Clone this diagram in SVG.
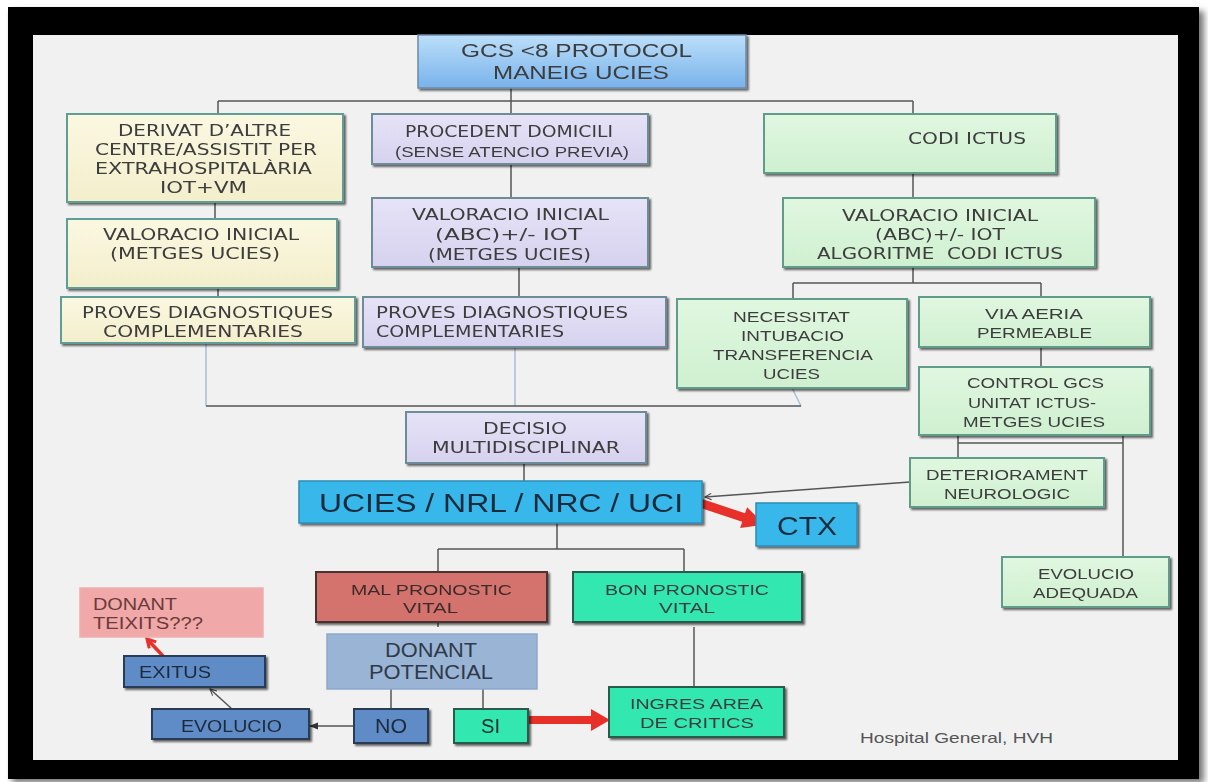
<svg xmlns="http://www.w3.org/2000/svg" width="1208" height="782" viewBox="0 0 1208 782">
<defs>
<style>
.t{font-family:"Liberation Sans",Arial,sans-serif;font-size:15px;fill:#3c3c3c}
.v{font-family:"DejaVu Sans",Verdana,sans-serif;font-size:15px;fill:#3c3c3c}
.big{font-size:25px;fill:#1c2c3c}
.m{font-size:20px}
.s{font-size:16px}
.ln{stroke:#555;stroke-width:1.5;fill:none}
.lb{stroke:#a9bfd4;stroke-width:1.5;fill:none}
.box{filter:url(#sh)}
.yel{fill:url(#gY);stroke:#5f9d97;stroke-width:2}
.lav{fill:url(#gL);stroke:#6c8c98;stroke-width:2}
.grn{fill:url(#gG);stroke:#5f9d8a;stroke-width:2}
.cy{fill:#38b8ea;stroke:#2b8cb5;stroke-width:1.5}
.red{fill:#d4726d;stroke:#4a3030;stroke-width:2}
.mint{fill:#33e8b0;stroke:#2c5a4c;stroke-width:2}
.blu{fill:#5f8cc6;stroke:#2b3a56;stroke-width:2}
.pb{fill:#9ab4d6;stroke:#8ea8cc;stroke-width:1.5}
.pk{fill:#f1a8a8;stroke:#eab0b0;stroke-width:1.5}
</style>
<linearGradient id="gY" x1="0" y1="0" x2="0" y2="1"><stop offset="0" stop-color="#fbf8e2"/><stop offset="1" stop-color="#f3eecb"/></linearGradient>
<linearGradient id="gL" x1="0" y1="0" x2="0" y2="1"><stop offset="0" stop-color="#e6e3f7"/><stop offset="1" stop-color="#d6d2ef"/></linearGradient>
<linearGradient id="gG" x1="0" y1="0" x2="0" y2="1"><stop offset="0" stop-color="#e0f7e0"/><stop offset="1" stop-color="#cff0d0"/></linearGradient>
<linearGradient id="gB" x1="0" y1="0" x2="0" y2="1"><stop offset="0" stop-color="#bcdffa"/><stop offset="1" stop-color="#78b2ea"/></linearGradient>
<filter id="sh" x="-10%" y="-10%" width="130%" height="140%"><feDropShadow dx="2" dy="2" stdDeviation="0.8" flood-color="#000" flood-opacity="0.6"/></filter>
<filter id="fr" x="-5%" y="-5%" width="110%" height="110%"><feGaussianBlur stdDeviation="3"/></filter>
<marker id="open" viewBox="0 0 10 10" refX="9" refY="5" markerWidth="8" markerHeight="8" orient="auto" markerUnits="userSpaceOnUse"><path d="M1,1 L9,5 L1,9" fill="none" stroke="#444" stroke-width="1.3"/></marker>
<marker id="fill" viewBox="0 0 10 10" refX="9" refY="5" markerWidth="9" markerHeight="9" orient="auto" markerUnits="userSpaceOnUse"><path d="M0,1 L10,5 L0,9 z" fill="#333"/></marker>
<marker id="redh" viewBox="0 0 10 10" refX="8" refY="5" markerWidth="12" markerHeight="12" orient="auto" markerUnits="userSpaceOnUse"><path d="M1,1 L8,5 L1,9" fill="none" stroke="#e8302a" stroke-width="2.5"/></marker>
</defs>

<rect width="1208" height="782" fill="#fff"/>
<rect x="12" y="11" width="1192" height="772" fill="#777" filter="url(#fr)"/>
<rect x="8" y="7" width="1191" height="772" fill="#000"/>
<rect x="33" y="35" width="1145" height="725" fill="#f1f1f1"/>

<g id="connectors">
<path class="ln" d="M511,88 V101 M218,101 H913 M218,101 V114 M511,101 V114 M913,101 V114"/>
<path class="ln" d="M215,202 V219 M218,288 V297"/>
<path class="ln" d="M511,164 V198 M519,267 V297"/>
<path class="ln" d="M913,173 V198 M913,267 V283 M793,283 H1041 M793,283 V299 M1041,283 V297 M1041,347 V367"/>
<path class="lb" d="M206,343 V406 M515,347 V406 M792,388 L801,406"/>
<path class="ln" d="M206,406 H801"/>
<path class="ln" d="M524,463 V481"/>
<path class="ln" d="M557,523 V549 M438,549 H684 M438,549 V572 M684,549 V572 M438,622 V627 M694,627 V687"/>
<path class="ln" d="M958,435 V458 M958,443 H1123 M1123,435 V557"/>
<path class="ln" d="M391,689 V709 M483,689 V709"/>
<path class="ln" d="M910,482 L705,497" marker-end="url(#open)"/>
<path class="ln" d="M354,726 H310" marker-end="url(#fill)"/>
<path class="ln" d="M232,709 L210,689" marker-end="url(#open)"/>
<path d="M163,656 L147,639" stroke="#e8302a" stroke-width="3.5" fill="none" marker-end="url(#redh)"/>
<polygon points="0,-4.5 46,-4.5 46,-11 68,0 46,11 46,4.5 0,4.5" fill="#e8302a" transform="translate(700,503) rotate(18.5)"/>
<polygon points="528,716 591,716 591,709 610,720 591,731 591,724 528,724" fill="#e8302a"/>
</g>

<g id="n-gcs" class="box"><rect x="418" y="35" width="328" height="53" fill="url(#gB)" stroke="#6c8aa6" stroke-width="1.5"/>
<text class="t" style="font-size:18px" x="461" y="57" textLength="231" lengthAdjust="spacingAndGlyphs">GCS &lt;8 PROTOCOL</text>
<text class="t" style="font-size:18px" x="493" y="79" textLength="176" lengthAdjust="spacingAndGlyphs">MANEIG UCIES</text></g>

<g id="n-derivat" class="box"><rect class="yel" x="67" y="114" width="276" height="88"/>
<text class="v" x="118" y="136" textLength="173" lengthAdjust="spacingAndGlyphs">DERIVAT D’ALTRE</text>
<text class="v" x="95" y="155" textLength="222" lengthAdjust="spacingAndGlyphs">CENTRE/ASSISTIT PER</text>
<text class="v" x="95" y="174" textLength="217" lengthAdjust="spacingAndGlyphs">EXTRAHOSPITALÀRIA</text>
<text class="v" x="160" y="193" textLength="87" lengthAdjust="spacingAndGlyphs">IOT+VM</text></g>

<g id="n-val-left" class="box"><rect class="yel" x="67" y="219" width="270" height="69"/>
<text class="v" x="103" y="240" textLength="196" lengthAdjust="spacingAndGlyphs">VALORACIO INICIAL</text>
<text class="v" x="110" y="259" textLength="170" lengthAdjust="spacingAndGlyphs">(METGES UCIES)</text></g>

<g id="n-proves-left" class="box"><rect class="yel" x="61" y="297" width="294" height="46"/>
<text class="v" x="82" y="318" textLength="251" lengthAdjust="spacingAndGlyphs">PROVES DIAGNOSTIQUES</text>
<text class="v" x="103" y="337" textLength="200" lengthAdjust="spacingAndGlyphs">COMPLEMENTARIES</text></g>

<g id="n-procedent" class="box"><rect class="lav" x="372" y="114" width="276" height="50"/>
<text class="v" x="405" y="137" textLength="208" lengthAdjust="spacingAndGlyphs">PROCEDENT DOMICILI</text>
<text class="t" x="395" y="157" textLength="234" lengthAdjust="spacingAndGlyphs">(SENSE ATENCIO PREVIA)</text></g>

<g id="n-val-mid" class="box"><rect class="lav" x="372" y="198" width="276" height="69"/>
<text class="v" x="412" y="220" textLength="197" lengthAdjust="spacingAndGlyphs">VALORACIO INICIAL</text>
<text class="v" x="435" y="240" textLength="147" lengthAdjust="spacingAndGlyphs">(ABC)+/- IOT</text>
<text class="v" x="428" y="260" textLength="163" lengthAdjust="spacingAndGlyphs">(METGES UCIES)</text></g>

<g id="n-proves-mid" class="box"><rect class="lav" x="363" y="297" width="303" height="50"/>
<text class="v" x="376" y="318" textLength="252" lengthAdjust="spacingAndGlyphs">PROVES DIAGNOSTIQUES</text>
<text class="v" x="376" y="337" textLength="188" lengthAdjust="spacingAndGlyphs">COMPLEMENTARIES</text></g>

<g id="n-codi" class="box"><rect class="grn" x="764" y="114" width="292" height="59"/>
<text class="v" x="908" y="144" textLength="118" lengthAdjust="spacingAndGlyphs">CODI ICTUS</text></g>

<g id="n-val-right" class="box"><rect class="grn" x="783" y="198" width="312" height="69"/>
<text class="v" x="842" y="221" textLength="196" lengthAdjust="spacingAndGlyphs">VALORACIO INICIAL</text>
<text class="v" x="875" y="240" textLength="130" lengthAdjust="spacingAndGlyphs">(ABC)+/- IOT</text>
<text class="v" x="817" y="259" textLength="246" lengthAdjust="spacingAndGlyphs">ALGORITME&#160; CODI ICTUS</text></g>

<g id="n-necessitat" class="box"><rect class="grn" x="677" y="299" width="230" height="89"/>
<text class="t" x="733" y="322" textLength="117" lengthAdjust="spacingAndGlyphs">NECESSITAT</text>
<text class="t" x="741" y="341" textLength="103" lengthAdjust="spacingAndGlyphs">INTUBACIO</text>
<text class="t" x="713" y="360" textLength="160" lengthAdjust="spacingAndGlyphs">TRANSFERENCIA</text>
<text class="t" x="763" y="379" textLength="57" lengthAdjust="spacingAndGlyphs">UCIES</text></g>

<g id="n-via" class="box"><rect class="grn" x="919" y="297" width="231" height="50"/>
<text class="t" x="985" y="319" textLength="98" lengthAdjust="spacingAndGlyphs">VIA AERIA</text>
<text class="t" x="977" y="338" textLength="115" lengthAdjust="spacingAndGlyphs">PERMEABLE</text></g>

<g id="n-control" class="box"><rect class="grn" x="919" y="367" width="231" height="68"/>
<text class="t" x="967" y="388" textLength="137" lengthAdjust="spacingAndGlyphs">CONTROL GCS</text>
<text class="t" x="968" y="408" textLength="128" lengthAdjust="spacingAndGlyphs">UNITAT ICTUS-</text>
<text class="t" x="963" y="427" textLength="142" lengthAdjust="spacingAndGlyphs">METGES UCIES</text></g>

<g id="n-decisio" class="box"><rect class="lav" x="406" y="412" width="240" height="51"/>
<text class="v" x="483" y="434" textLength="84" lengthAdjust="spacingAndGlyphs">DECISIO</text>
<text class="v" x="432" y="453" textLength="188" lengthAdjust="spacingAndGlyphs">MULTIDISCIPLINAR</text></g>

<g id="n-ucies" class="box"><rect class="cy" x="299" y="481" width="403" height="42"/>
<text class="t big" x="319" y="512" textLength="364" lengthAdjust="spacingAndGlyphs">UCIES / NRL / NRC / UCI</text></g>

<g id="n-ctx" class="box"><rect class="cy" x="756" y="503" width="101" height="43"/>
<text class="t big" x="777" y="535" textLength="60" lengthAdjust="spacingAndGlyphs">CTX</text></g>

<g id="n-deterior" class="box"><rect class="grn" x="910" y="458" width="194" height="49"/>
<text class="t" x="926" y="480" textLength="162" lengthAdjust="spacingAndGlyphs">DETERIORAMENT</text>
<text class="t" x="944" y="499" textLength="126" lengthAdjust="spacingAndGlyphs">NEUROLOGIC</text></g>

<g id="n-evol-adeq" class="box"><rect class="grn" x="1002" y="557" width="167" height="50"/>
<text class="t" x="1038" y="579" textLength="96" lengthAdjust="spacingAndGlyphs">EVOLUCIO</text>
<text class="t" x="1033" y="598" textLength="105" lengthAdjust="spacingAndGlyphs">ADEQUADA</text></g>

<g id="n-mal" class="box"><rect class="red" x="316" y="572" width="231" height="50"/>
<text class="t" style="fill:#3a2c2c" x="351" y="595" textLength="161" lengthAdjust="spacingAndGlyphs">MAL PRONOSTIC</text>
<text class="t" style="fill:#3a2c2c" x="403" y="613" textLength="55" lengthAdjust="spacingAndGlyphs">VITAL</text></g>

<g id="n-bon" class="box"><rect class="mint" x="573" y="572" width="229" height="50"/>
<text class="t" x="605" y="595" textLength="164" lengthAdjust="spacingAndGlyphs">BON PRONOSTIC</text>
<text class="t" x="659" y="613" textLength="56" lengthAdjust="spacingAndGlyphs">VITAL</text></g>

<g id="n-donant-pot"><rect class="pb" x="327" y="634" width="210" height="55"/>
<text class="t m" style="fill:#2e3a48" x="385" y="657" textLength="92" lengthAdjust="spacingAndGlyphs">DONANT</text>
<text class="t m" style="fill:#2e3a48" x="369" y="679" textLength="124" lengthAdjust="spacingAndGlyphs">POTENCIAL</text></g>

<g id="n-no" class="box"><rect class="blu" x="354" y="709" width="74" height="34"/>
<text class="t m" style="fill:#1f2a3a" x="375" y="733" textLength="32" lengthAdjust="spacingAndGlyphs">NO</text></g>

<g id="n-si" class="box"><rect class="mint" x="454" y="709" width="74" height="34"/>
<text class="t m" style="fill:#1f2a2a" x="481" y="733" textLength="19" lengthAdjust="spacingAndGlyphs">SI</text></g>

<g id="n-evolucio" class="box"><rect class="blu" x="152" y="709" width="157" height="30"/>
<text class="t s" style="fill:#1f2a3a" x="181" y="732" textLength="101" lengthAdjust="spacingAndGlyphs">EVOLUCIO</text></g>

<g id="n-exitus" class="box"><rect class="blu" x="124" y="656" width="141" height="31"/>
<text class="t s" style="fill:#1f2a3a" x="139" y="678" textLength="72" lengthAdjust="spacingAndGlyphs">EXITUS</text></g>

<g id="n-teixits"><rect class="pk" x="80" y="588" width="183" height="49"/>
<text class="t s" style="fill:#6a3a3a" x="93" y="610" textLength="84" lengthAdjust="spacingAndGlyphs">DONANT</text>
<text class="t s" style="fill:#6a3a3a" x="93" y="629" textLength="110" lengthAdjust="spacingAndGlyphs">TEIXITS???</text></g>

<g id="n-ingres" class="box"><rect class="mint" x="609" y="687" width="175" height="50"/>
<text class="t" x="630" y="709" textLength="133" lengthAdjust="spacingAndGlyphs">INGRES AREA</text>
<text class="t" x="640" y="728" textLength="114" lengthAdjust="spacingAndGlyphs">DE CRITICS</text></g>

<text class="t" style="fill:#555" x="860" y="743" textLength="193" lengthAdjust="spacingAndGlyphs">Hospital General, HVH</text>
</svg>
